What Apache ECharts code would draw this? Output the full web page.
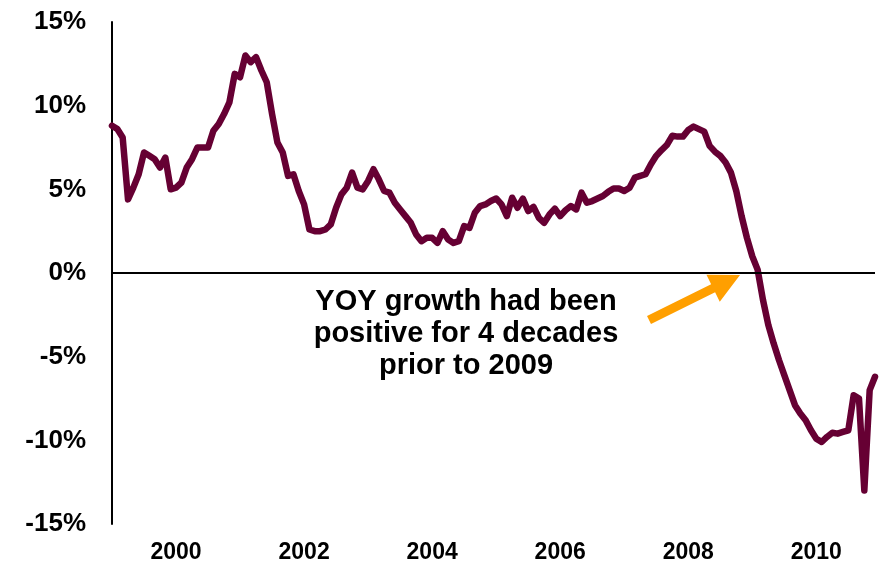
<!DOCTYPE html>
<html>
<head>
<meta charset="utf-8">
<style>
  html, body { margin: 0; padding: 0; background: #fff; }
  #chart { width: 881px; height: 566px; }
</style>
<script src="https://cdn.jsdelivr.net/npm/echarts@6/dist/echarts.min.js"></script>
</head>
<body>
<div id="chart"></div>
<script>
// monthly categories, Jan 1999 .. Dec 2010
const months = [];
for (let y = 1999; y <= 2010; y++)
  for (let m = 1; m <= 12; m++) months.push(y + "-" + String(m).padStart(2, "0"));

// YOY growth, % (one row per year)
const yoyGrowth = [
  8.8, 8.6, 8.1, 4.4, 5.1, 5.9, 7.2, 7.0, 6.8, 6.3, 6.9, 5.0,
  5.1, 5.4, 6.3, 6.8, 7.5, 7.5, 7.5, 8.5, 8.9, 9.5, 10.2, 11.9,
  11.7, 13.0, 12.6, 12.9, 12.1, 11.4, 9.5, 7.8, 7.2, 5.8, 5.9, 4.9,
  4.1, 2.6, 2.5, 2.5, 2.6, 2.9, 3.9, 4.7, 5.1, 6.0, 5.1, 5.0,
  5.5, 6.2, 5.6, 4.9, 4.8, 4.2, 3.8, 3.4, 3.0, 2.3, 1.9, 2.1,
  2.1, 1.8, 2.5, 2.0, 1.8, 1.9, 2.8, 2.7, 3.6, 4.0, 4.1, 4.3,
  4.45, 4.1, 3.4, 4.5, 3.9, 4.45, 3.7, 3.95, 3.3, 3.0, 3.5, 3.85,
  3.4, 3.75, 4.0, 3.8, 4.8, 4.2, 4.3, 4.45, 4.6, 4.85, 5.05, 5.05,
  4.9, 5.1, 5.7, 5.8, 5.9, 6.5, 7.0, 7.35, 7.65, 8.2, 8.15, 8.15,
  8.55, 8.75, 8.6, 8.45, 7.6, 7.25, 7.0, 6.6, 6.0, 4.9, 3.4, 2.1,
  1.0, 0.2, -1.6, -3.1, -4.2, -5.2, -6.1, -7.0, -7.9, -8.4, -8.8, -9.4,
  -9.9, -10.1, -9.8, -9.55, -9.6, -9.5, -9.4, -7.3, -7.5, -13.0, -7.0, -6.2
];

const yTicks = { min: -15, max: 15, step: 5 };
const noteLines = ["YOY growth had been", "positive for 4 decades", "prior to 2009"];

const font = "'Liberation Sans', Arial, sans-serif";

// orange arrow (annotation), tail -> tip in pixels
function arrowPoints(tail, tip, shaft, headLen, headW){
  const dx = tip[0]-tail[0], dy = tip[1]-tail[1], L = Math.hypot(dx, dy);
  const ux = dx/L, uy = dy/L, px = -uy, py = ux;
  const b = [tip[0]-ux*headLen, tip[1]-uy*headLen];
  return [
    [tail[0]+px*shaft/2, tail[1]+py*shaft/2],
    [b[0]+px*shaft/2, b[1]+py*shaft/2],
    [b[0]+px*headW/2, b[1]+py*headW/2],
    tip,
    [b[0]-px*headW/2, b[1]-py*headW/2],
    [b[0]-px*shaft/2, b[1]-py*shaft/2],
    [tail[0]-px*shaft/2, tail[1]-py*shaft/2]
  ];
}

const note = noteLines.map((t, i) => ({
  type: "text",
  x: 466, y: 302 + i * 32,
  style: {
    text: t,
    textAlign: "center",
    textVerticalAlign: "middle",
    font: "bold 29px " + font,
    fill: "#000"
  },
  z: 10
}));

const chart = echarts.init(document.getElementById("chart"), null, { renderer: "canvas" });
chart.setOption({
  animation: false,
  backgroundColor: "#fff",
  grid: { left: 112, right: 6, top: 22, bottom: 42, containLabel: false },
  xAxis: {
    type: "category",
    data: months,
    boundaryGap: false,
    axisLine: { show: false },
    axisTick: { show: false },
    splitLine: { show: false },
    axisLabel: {
      interval: (i, v) => v.endsWith("-01") && (+v.slice(0, 4)) % 2 === 0,
      formatter: v => v.slice(0, 4),
      margin: 17,
      fontFamily: font,
      fontWeight: "bold",
      fontSize: 23,
      color: "#000"
    }
  },
  yAxis: {
    type: "value",
    min: yTicks.min, max: yTicks.max, interval: yTicks.step,
    axisLine: { show: true, onZero: false, lineStyle: { color: "#000", width: 2 } },
    axisTick: { show: false },
    splitLine: { show: false },
    axisLabel: {
      formatter: "{value}%",
      margin: 26,
      fontFamily: font,
      fontWeight: "bold",
      fontSize: 26,
      color: "#000"
    }
  },
  series: [{
    type: "line",
    data: yoyGrowth,
    showSymbol: false,
    symbol: "none",
    lineStyle: { color: "#660033", width: 6.5, join: "round", cap: "round" },
    markLine: {
      silent: true,
      symbol: "none",
      label: { show: false },
      lineStyle: { color: "#000", width: 2, type: "solid" },
      data: [{ yAxis: 0 }]
    },
    z: 3
  }],
  graphic: [
    {
      type: "polygon",
      shape: { points: arrowPoints([649, 320], [740, 275], 9, 30, 30) },
      style: { fill: "#FF9F00" },
      z: 10
    }
  ].concat(note)
});
</script>
</body>
</html>
